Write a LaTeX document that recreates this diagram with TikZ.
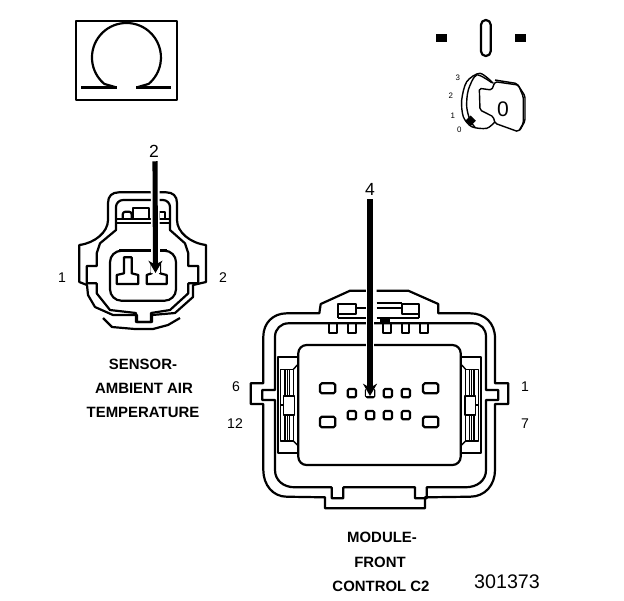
\documentclass[tikz,border=0pt]{standalone}
\usepackage{fontspec}
\setmainfont{Liberation Sans}
\usetikzlibrary{arrows.meta}
\tikzset{
	wire/.style={line width=1.25pt, line join=round},
	fine/.style={line width=0.8pt, line join=round},
	probe/.style={line width=2.9pt, -{Stealth[length=7pt,width=8pt]}, preaction={draw, white, line width=5pt, -}},
	pinlabel/.style={inner sep=1pt, font=\fontsize{8}{9}\selectfont},
	probelabel/.style={inner sep=1pt, font=\fontsize{10}{11}\selectfont},
	caption/.style={inner sep=0pt, font=\fontsize{8.5}{9}\selectfont\bfseries},
	keynum/.style={inner sep=0pt, font=\fontsize{4.5}{5}\selectfont}
}
\begin{document}
\begin{tikzpicture}[x=0.02cm, y=-0.02cm]
		%%%%% START %%%%%
		\useasboundingbox (0, 0) rectangle (624, 600);
		
		% ohm symbol
		\draw[wire] (76, 21) rectangle (177, 100);
		\draw[wire] (115, 87) -- (104.3, 83.9) arc[start angle=130, end angle=410, radius=34.5] -- (138, 87);
		\draw[line width=1.7pt] (81, 87) -- (117, 87);
		\draw[line width=1.7pt] (136, 87) -- (171, 87);
		
		% key position
		\fill (436, 34) rectangle (446.7, 42.3);
		\fill (515, 34) rectangle (526, 42.3);
		\draw[wire, rounded corners=2.7pt] (481, 20) rectangle (490.7, 56);
		\draw[fine] plot[smooth] coordinates {(493.3,83.3) (480,73.3) (466.7,81.7) (461.7,100) (463.3,116.7) (471.7,126.7) (486.7,128.3) (495,121.7)};
		\draw[fine] plot[smooth] coordinates {(491.7,82.7) (476.7,75) (468.3,90) (466.7,106.7) (470,120) (475,127.3)};
		\draw[fine, rounded corners=1pt] (479.3,88.3) -- (491.7,90) -- (495,81.7) -- (518.3,85) -- (523.3,96.7) -- (523.3,123.3) -- (518.3,131.7) -- (495,123.3) -- (493.3,116.7) -- (480,110) -- cycle;
		\draw[fine, rounded corners=1pt] (495,80) -- (517,83.5) -- (525,96) -- (525,121) -- (520,130);
		\fill (470.7,115.5) -- (475.9,120.7) -- (470.7,125.9) -- (465.5,120.7) -- cycle;
		\node[keynum] (keythree) at (457.7, 78) {3};
		\node[keynum] (keytwo) at (450.7, 96) {2};
		\node[keynum] (keyone) at (452.7, 115.7) {1};
		\node[keynum] (keyzero) at (459.3, 130) {0};
		\node[inner sep=0pt, font=\fontsize{12}{13}\selectfont] (keyletter) at (503, 109) {0};
		
		% sensor connector
		\draw[wire] (79.3,245) .. controls (95,243) and (108,232) .. (108,220) -- (108,203) .. controls (108,196) and (112,192.3) .. (119,192.3) -- (166,192.3) .. controls (173,192.3) and (177,196) .. (177,203) -- (177,220) .. controls (177,232) and (190,243) .. (206,245) -- (206,282) -- (193,285) -- (193,297) -- (175,313) -- (152,315) -- (152,322) -- (137,322) -- (137,315) -- (113,315) -- (95,307) -- (88,295) -- (87,285) -- (79.3,282) -- cycle;
		\draw[wire] (116,225) -- (116,230) -- (100,243.3) -- (96.7,253.3) -- (96.7,266) -- (86.7,266) -- (86.7,283.3) -- (96.7,283.3) -- (96.7,293.3) -- (110,310) -- (136,313) -- (136,322) -- (151,322) -- (151,313) -- (170,310) -- (188.3,293.3) -- (188.3,283.3) -- (198.3,283.3) -- (198.3,266) -- (188.3,266) -- (188.3,253.3) -- (185,243.3) -- (170,230) -- (170,225);
		\draw[wire, rounded corners=4pt] (116,225) -- (116,200) -- (170,200) -- (170,225);
		\draw[wire] (103,318) -- (112,327) -- (135,329) -- (153,329) -- (168,325) -- (180,318);
		\draw[wire] (116,219) -- (170,219);
		\draw[wire] (116,223.3) -- (170,223.3);
		\draw[wire, rounded corners=1.5pt] (122.7,219) -- (122.7,211.7) -- (131.7,211.7) -- (131.7,219);
		\draw[wire] (133.3,219) -- (133.3,208.3) -- (149.3,208.3) -- (149.3,219);
		\draw[wire] (159.3,219) -- (159.3,211.7) -- (165,211.7) -- (165,219);
		\draw[wire, rounded corners=6.5pt] (110,250.7) rectangle (176,300.7);
		\draw[line width=1.5pt] (119,250.7) -- (167,250.7);
		\draw[wire] (124,257.3) -- (131.7,257.3) -- (131.7,273.3) -- (138.3,275) -- (138.3,284) -- (116.7,284) -- (116.7,275) -- (124,273.3) -- cycle;
		\draw[wire] (151.7,263.3) -- (151.7,273.3) -- (146.7,275) -- (146.7,284) -- (166.7,284) -- (166.7,275) -- (160,273.3) -- (160,263.3);
		
		% module connector
		\draw[wire] (368.3,290.7) -- (350,290.7) -- (320.7,304) -- (319.3,313.3) -- (286.7,313.3) .. controls (273,313.3) and (263.3,323) .. (263.3,336.7) -- (263.3,383.3) -- (250.7,383.3) -- (250.7,404) -- (263.3,404) -- (263.3,470) .. controls (263.3,485) and (273,496.7) .. (286.7,496.7) -- (325,497.3) -- (325,508.3) -- (425,508.3) -- (425,497.3) -- (470,496.7) .. controls (485,496.7) and (495,485) .. (495,470) -- (495,404) -- (508.3,404) -- (508.3,383.3) -- (495,383.3) -- (495,338.3) .. controls (495,323) and (485,313.3) .. (470,313.3) -- (438.3,313.3) -- (438.3,304) -- (408.3,290.7) -- (376.7,290.7);
		\draw[wire] (275,336.7) .. controls (275,329) and (281,323.3) .. (288.3,323.3) -- (473,323.3) .. controls (481,323.3) and (486,329) .. (486,336.7) -- (486,390) -- (498.3,390) -- (498.3,400) -- (486,400) -- (486,470) .. controls (486,480) and (478,487.3) .. (465,487.3) -- (426.7,487.3) -- (426.7,498.3) -- (415,498.3) -- (415,487.3) -- (343.3,487.3) -- (343.3,498.3) -- (331.7,498.3) -- (331.7,487.3) -- (295,487.3) .. controls (283,487.3) and (275,480) .. (275,470) -- (275,400) -- (262.3,400) -- (262.3,390) -- (275,390) -- cycle;
		\draw[wire, rounded corners=4.7pt] (298.3,345) rectangle (460.7,465);
		\draw[wire] (298.3,357.3) -- (277.7,357.3) -- (277.7,452.7) -- (298.3,452.7);
		\draw[wire] (460.7,357.3) -- (480.7,357.3) -- (480.7,452.7) -- (460.7,452.7);
		\foreach \xa/\sg in {280.7/1, 478.3/-1} {
			\draw[fine] (\xa, 369.3) rectangle (\xa+\sg*12.6, 441);
			\foreach \xb in {4.3, 6.6, 8.6}
				\draw[fine] (\xa+\sg*\xb, 369.3) -- (\xa+\sg*\xb, 441);
			\draw[fine, fill=white] (\xa+\sg*3, 396) rectangle (\xa+\sg*13.5, 415);
			\draw[fine] (\xa, 405) -- (\xa+\sg*3, 405);
			\draw[fine] (\xa+\sg*12.6, 369.3) -- (\xa+\sg*17.6, 364);
			\draw[fine] (\xa+\sg*12.6, 441) -- (\xa+\sg*17.6, 446);
		}
		\draw[wire] (337.7,304) rectangle (356,314);
		\draw[wire] (356,307.7) -- (367,307.7);
		\draw[wire] (337.7,318.3) -- (367,318.3);
		\draw[wire] (337.7,314) -- (337.7,318.3);
		\draw[wire] (401.7,304) rectangle (419.3,314);
		\draw[wire] (376.7,303.3) -- (401.7,303.3);
		\draw[wire] (376.7,307.7) -- (401.7,307.7);
		\draw[wire] (376.7,318.3) -- (419.3,318.3);
		\draw[wire] (419.3,314) -- (419.3,318.3);
		\draw[wire] (380,320.5) -- (390,320.5);
		\foreach \xc/\xd in {329.3/337.3, 347.7/355.7, 383/391, 401.7/409.3, 420/428}
			\draw[wire] (\xc, 323.3) -- (\xc, 332.7) -- (\xd, 332.7) -- (\xd, 323.3);
		\foreach \xc in {347.7, 366, 383.7, 401.7} {
			\draw[wire, rounded corners=0.8pt] (\xc, 389) rectangle (\xc+8.3, 397.3);
			\draw[wire, rounded corners=0.8pt] (\xc, 411) rectangle (\xc+8.3, 419.3);
		}
		\foreach \xc in {320, 423} {
			\draw[wire, rounded corners=1pt] (\xc, 383.3) rectangle (\xc+15.3, 393.3);
			\draw[wire, rounded corners=1pt] (\xc, 416.7) rectangle (\xc+15.3, 427.3);
		}
		
		% labels and probes
		\node[pinlabel] (sensorone) at (62, 278) {1};
		\node[pinlabel] (sensortwo) at (223, 278) {2};
		\node[pinlabel] (modulesix) at (236, 387) {6};
		\node[pinlabel] (moduletwelve) at (235, 424) {12};
		\node[pinlabel] (moduleone) at (525, 387) {1};
		\node[pinlabel] (moduleseven) at (525, 424) {7};
		
		\node[probelabel] (probetwo) at (154, 151) {2};
		\coordinate (pintwo) at (155.5, 273);
		\draw[probe] (probetwo.south) ++(1, 2) -- (pintwo);
		\node[probelabel] (probefour) at (370, 189) {4};
		\coordinate (pinfour) at (370, 396);
		\draw[probe] (probefour.south) ++(0, 2) -- (pinfour);
		
		\node[caption] (sensora) at (143, 364) {SENSOR-};
		\node[caption] (sensorb) at (144, 388) {AMBIENT AIR};
		\node[caption] (sensorc) at (143, 412) {TEMPERATURE};
		\node[caption] (modulea) at (382, 537) {MODULE-};
		\node[caption] (moduleb) at (380, 562) {FRONT};
		\node[caption] (modulec) at (381, 586) {CONTROL C2};
		\node[inner sep=0pt, font=\fontsize{11.2}{12}\selectfont] (partno) at (507, 582) {301373};
		
		%%%%% END %%%%%
	\end{tikzpicture}
\end{document}
